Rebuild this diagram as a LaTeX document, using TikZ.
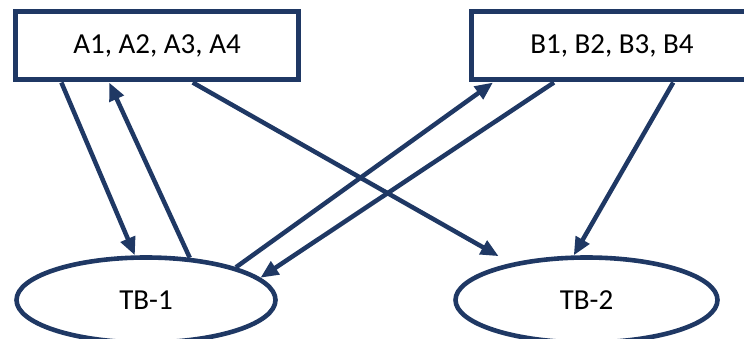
\documentclass[tikz,border=0pt]{standalone}
\usepackage{fontspec}
\setmainfont{Carlito}
\usetikzlibrary{arrows.meta,calc,shapes.geometric}
\definecolor{navy}{RGB}{31,56,100}
\begin{document}
\begin{tikzpicture}[x=1pt,y=1pt,
  box/.style={draw=navy, line width=5pt, rectangle, minimum height=68pt,
    inner sep=0pt, font=\fontsize{29}{33}\selectfont},
  oval/.style={draw=navy, line width=4.6pt, ellipse, inner sep=0pt,
    minimum height=85pt, font=\fontsize{29}{33}\selectfont},
  link/.style={draw=navy, line width=4.5pt, -{Triangle[length=18pt,width=15pt]}}]
\useasboundingbox (0,0) rectangle (744,338);
\clip (0,0) rectangle (744,338);

% groups
\node[box, minimum width=283pt] (abox) at (157,292) {A1, A2, A3, A4};
\node[box, minimum width=281pt] (bbox) at (612,292) {B1, B2, B3, B4};

% test beds
\node[oval, minimum width=259pt] (tb1) at (146,38) {TB-1};
\node[oval, minimum width=262pt] (tb2) at (586.5,38) {TB-2};

% links
\draw[link] ($(abox.south west)!0.168!(abox.south east)$) -- (tb1.104);
\draw[link] (tb1.44) -- ($(abox.south west)!0.334!(abox.south east)$);
\draw[link] (tb1.20) -- ($(bbox.south west)!0.084!(bbox.south east)$);
\draw[link] ($(bbox.south west)!0.297!(bbox.south east)$) -- (tb1.11);
\draw[link, shorten >=14pt] ($(abox.south west)!0.624!(abox.south east)$) -- (tb2.154);
\draw[link] ($(bbox.south west)!0.714!(bbox.south east)$) -- (tb2.106);
\end{tikzpicture}
\end{document}
